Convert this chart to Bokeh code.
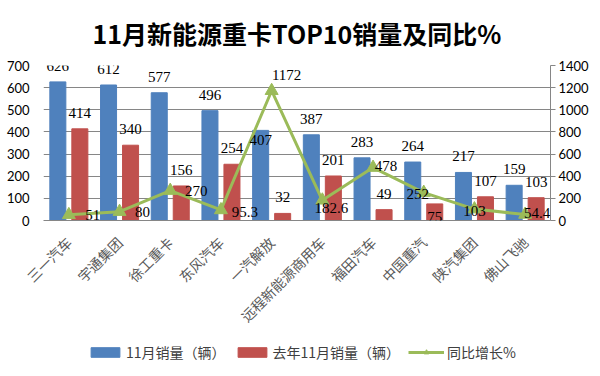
import math
from bokeh.plotting import figure
from bokeh.layouts import column
from bokeh.models import (Range1d, LinearAxis, FixedTicker, ColumnDataSource,
                          LabelSet, Legend, LegendItem)
from bokeh.embed import file_html
from bokeh.resources import INLINE

# ---- data ----
categories = ["三一汽车", "宇通集团", "徐工重卡", "东风汽车", "一汽解放",
              "远程新能源商用车", "福田汽车", "中国重汽", "陕汽集团", "佛山飞驰"]
sales_nov = [626, 612, 577, 496, 407, 387, 283, 264, 217, 159]
sales_last_nov = [414, 340, 156, 254, 32, 201, 49, 75, 107, 103]
yoy_pct = [51, 80, 270, 95.3, 1172, 182.6, 478, 252, 103, 54.4]
left_ticks = [0, 100, 200, 300, 400, 500, 600, 700]
right_ticks = [0, 200, 400, 600, 800, 1000, 1200, 1400]
title_text = "11月新能源重卡TOP10销量及同比%"
series_names = ["11月销量（辆）", "去年11月销量（辆）", "同比增长%"]

# ---- styles ----
BLUE, RED, GREEN = "#4F81BD", "#C0504D", "#9BBB59"
GRID = "#868686"
NUM_FONT = "Lato"
CJK_FONT = "Noto Sans CJK SC"
blue_label_dy = [16, 16, 16, 16, -10, 16, 16, 16, 16, 16]
red_label_dy = [16, 16, 16, 16, 16, 16, 16, -13, 16, 16]
green_label_dx = [24, 23, 26, 24, 15, 9, 13, -6, 0, 12]
green_label_dy = [0, 0, 0, -2, 16, -8, 2, -1, -2, 1]
bar_shift, bar_w = 0.217, 0.316


def fmt(v):
    return str(int(v)) if float(v).is_integer() else str(v)


n = len(categories)
xc = [i + 0.5 for i in range(n)]

p = figure(width=600, height=336, x_range=Range1d(0, n), y_range=Range1d(0, 700),
           output_backend="svg", toolbar_location=None,
           min_border_left=43, min_border_right=50, min_border_top=64,
           min_border_bottom=116)
p.extra_y_ranges = {"r": Range1d(0, 1400)}
p.outline_line_color = None
p.background_fill_color = "white"
p.border_fill_color = "white"

# title
p.title.text = title_text
p.title.align = "center"
p.title.vertical_align = "middle"
p.title.standoff = 27
p.title.text_font = CJK_FONT
p.title.text_font_size = "25px"
p.title.text_font_style = "bold"
p.title.text_color = "#000000"
p.title.offset = 6

# axes
xa = p.xaxis[0]
xa.ticker = FixedTicker(ticks=xc)
xa.major_label_overrides = {x: c for x, c in zip(xc, categories)}
xa.major_label_orientation = math.pi / 4
xa.major_label_text_font = CJK_FONT
xa.major_label_text_font_size = "14px"
xa.major_label_text_color = "#595959"
xa.major_label_standoff = 13
xa.axis_line_color = GRID
xa.major_tick_line_color = None
xa.minor_tick_line_color = None

ya = p.yaxis[0]
ya.ticker = FixedTicker(ticks=left_ticks)
ya.axis_line_color = None
ya.major_tick_line_color = None
ya.minor_tick_line_color = None
ya.major_label_standoff = 8
ya.major_label_text_font = NUM_FONT
ya.major_label_text_font_size = "13px"
ya.major_label_text_color = "#000000"

ra = LinearAxis(y_range_name="r", ticker=FixedTicker(ticks=right_ticks))
ra.axis_line_color = GRID
ra.major_tick_line_color = GRID
ra.major_tick_out = 5
ra.major_tick_in = 0
ra.minor_tick_line_color = None
ra.major_label_standoff = 3
ra.major_label_text_font = NUM_FONT
ra.major_label_text_font_size = "13px"
ra.major_label_text_color = "#000000"
p.add_layout(ra, "right")

p.xgrid.visible = False
p.ygrid.ticker = FixedTicker(ticks=left_ticks)
p.ygrid.grid_line_color = GRID

# bars, line
src = ColumnDataSource(dict(
    xb=[x - bar_shift for x in xc], xr=[x + bar_shift for x in xc], xc=xc,
    nov=sales_nov, last=sales_last_nov, yoy=yoy_pct,
    tn=[fmt(v) for v in sales_nov], tl=[fmt(v) for v in sales_last_nov],
    ty=[fmt(v) for v in yoy_pct],
    bdy=blue_label_dy, rdy=red_label_dy, gdx=green_label_dx, gdy=green_label_dy))

p.vbar(x="xb", top="nov", width=bar_w, source=src, fill_color=BLUE, line_color=BLUE)
p.vbar(x="xr", top="last", width=bar_w, source=src, fill_color=RED, line_color=RED)
p.line(x="xc", y="yoy", source=src, y_range_name="r", line_color=GREEN, line_width=3)
p.scatter(x="xc", y="yoy", source=src, y_range_name="r", marker="triangle",
          size=13, fill_color=GREEN, line_color=GREEN)

common = dict(text_font=NUM_FONT, text_font_size="15px", text_color="#000000",
              text_align="center", text_baseline="middle")
p.add_layout(LabelSet(x="xb", y="nov", text="tn", y_offset="bdy", source=src, **common))
p.add_layout(LabelSet(x="xr", y="last", text="tl", y_offset="rdy", source=src, **common))
p.add_layout(LabelSet(x="xc", y="yoy", text="ty", x_offset="gdx", y_offset="gdy",
                      y_range_name="r", source=src, **common))

# ---- legend strip (separate figure so the legend is not clipped) ----
pl = figure(width=600, height=40, x_range=Range1d(0, 1), y_range=Range1d(0, 1),
            output_backend="svg", toolbar_location=None,
            x_axis_location=None, y_axis_location=None, min_border=0)
pl.outline_line_color = None
pl.grid.visible = False
# legend swatches only: the points lie far outside the strip's visible range
hidden = ColumnDataSource(dict(x=[-50, -49], y=[-50, -50]))
lb = pl.vbar(x="x", top="y", width=0.1, source=hidden, fill_color=BLUE, line_color=BLUE)
lr = pl.vbar(x="x", top="y", width=0.1, source=hidden, fill_color=RED, line_color=RED)
ll = pl.line(x="x", y="y", source=hidden, line_color=GREEN, line_width=3)
ls = pl.scatter(x="x", y="y", source=hidden, marker="triangle", size=11,
                fill_color=GREEN, line_color=GREEN)
legend = Legend(items=[LegendItem(label=series_names[0], renderers=[lb]),
                       LegendItem(label=series_names[1], renderers=[lr]),
                       LegendItem(label=series_names[2], renderers=[ll, ls])],
                orientation="horizontal", location=(44, 14),
                border_line_color=None, background_fill_alpha=0,
                padding=0, margin=0, spacing=8, label_standoff=3,
                glyph_width=36, glyph_height=12,
                label_text_font=CJK_FONT, label_text_font_size="14px",
                label_text_color="#404040")
pl.add_layout(legend)

layout = column(p, pl, spacing=0)

open("out.html", "w").write(file_html(layout, INLINE))
